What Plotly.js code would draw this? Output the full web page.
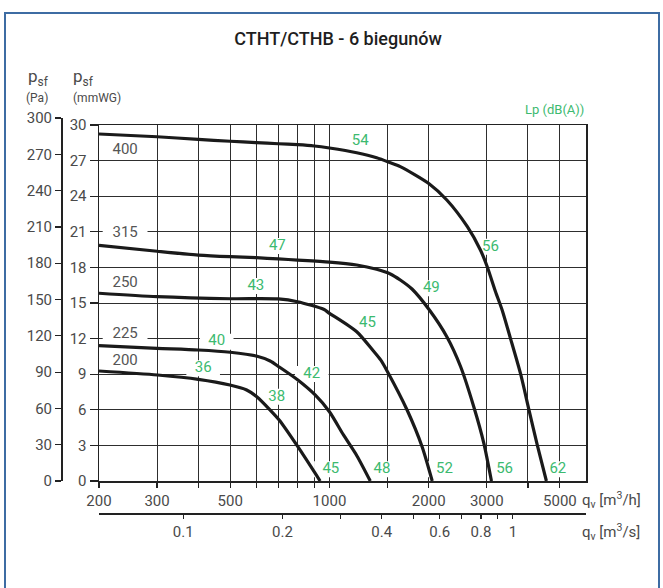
<!DOCTYPE html>
<html><head><meta charset="utf-8">
<script src="https://cdn.plot.ly/plotly-3.0.1.min.js"></script>
<style>
html,body{margin:0;padding:0;background:#fff;}
#wrap{position:relative;width:663px;height:588px;overflow:hidden;}
#chart{position:absolute;left:0;top:0;width:663px;height:588px;}
#frame{position:absolute;left:4px;top:12px;width:656px;height:600px;border:2px solid #3d6ca3;border-bottom:none;box-sizing:border-box;pointer-events:none;}
</style></head>
<body><div id="wrap"><div id="chart"></div><div id="frame"></div></div>
<script>
// ---- data (q in m3/h, pressure in mmWG) ----
const sizes = ['400', '315', '250', '225', '200'];
const q400 = [200, 300, 400, 500, 600, 700, 800, 900, 1000, 1210, 1390, 1530, 1640, 2010, 2270, 2620, 2870, 3010, 3190, 3340, 3540, 3800, 4030, 4270, 4550];
const p400 = [29.24, 29.01, 28.79, 28.63, 28.51, 28.42, 28.34, 28.23, 28.06, 27.66, 27.24, 26.82, 26.49, 25.03, 23.68, 21.43, 19.47, 18.06, 15.95, 14.41, 12.02, 9.02, 5.98, 3.03, 0];
const q315 = [200, 300, 400, 500, 600, 700, 800, 1000, 1210, 1390, 1530, 1640, 1780, 2010, 2270, 2500, 2740, 2940, 3100];
const p315 = [19.86, 19.36, 19.04, 18.90, 18.82, 18.71, 18.62, 18.45, 18.20, 17.84, 17.45, 16.94, 16.18, 14.41, 12.16, 9.63, 6.26, 3.18, 0];
const q250 = [200, 300, 500, 700, 800, 960, 1000, 1210, 1360, 1430, 1500, 1720, 1910, 2050];
const p250 = [15.82, 15.53, 15.36, 15.34, 15.11, 14.47, 14.13, 12.58, 10.95, 10.20, 9.21, 5.98, 2.89, 0];
const q225 = [200, 300, 400, 500, 600, 661, 704, 802, 905, 1000, 1103, 1212, 1330];
const p225 = [11.40, 11.18, 11.04, 10.85, 10.53, 10.11, 9.61, 8.51, 7.25, 5.84, 3.88, 2.11, 0];
const q200 = [200, 301, 400, 499, 561, 602, 661, 704, 802, 937];
const p200 = [9.27, 8.93, 8.57, 8.09, 7.67, 7.10, 5.98, 5.14, 2.89, 0];

// curve size labels
const sizeLabelQ = [240, 240, 240, 240, 240];
const sizeLabelP = [27.89, 20.87, 16.66, 12.36, 10.11];

// Lp dB(A) labels
const lpText = ['54', '56', '62', '47', '49', '56', '43', '45', '52', '40', '42', '48', '36', '38', '45'];
const lpQ    = [1240, 3080, 4930, 695, 2038, 3398, 598, 1305, 2232, 455, 884, 1444, 414, 692, 1010];
const lpP    = [28.59, 19.74, 1.0, 19.80, 16.24, 1.0, 16.43, 13.29, 1.0, 11.74, 9.02, 1.0, 9.50, 7.10, 1.0];

// axes ticks
const qhTicks  = [200, 300, 500, 1000, 2000, 3000, 5000];
const qhMinor  = [400, 600, 700, 800, 900, 1500, 4000];
const qsTicks  = [0.1, 0.2, 0.4, 0.6, 0.8, 1];
const qsMinor  = [0.3, 0.5, 0.7, 0.9];
const mmTicks  = [0, 3, 6, 9, 12, 15, 18, 21, 24, 27, 30];
const paTicks  = [0, 30, 60, 90, 120, 150, 180, 210, 240, 270, 300];

const qMin = 200, qMax = 6000;

// ---- layout geometry ----
const W = 663, H = 588, L = 55, R = 77, T = 118, B = 75;
const pw = W - L - R, ph = H - T - B;
const xd0 = (99 - L) / pw;
const yd0 = (513 - 481) / ph;
const yd1 = (513 - 125) / ph;

const FONT = 'Roboto, "DejaVu Sans", sans-serif';
const GREEN = '#3cba6f';
const TXT = '#4a4a4a';
const DARK = '#222';
const GRID = '#2e2e2e';

const traces = [];
// white boxes behind labels (drawn under curves, over grid)
traces.push({x: sizeLabelQ, y: sizeLabelP, xaxis: 'x', yaxis: 'y', mode: 'markers', hoverinfo: 'skip', showlegend: false,
  marker: {symbol: 'line-ew', size: 32, line: {width: 16, color: '#fff'}, color: '#fff'}});
traces.push({x: lpQ, y: lpP, xaxis: 'x', yaxis: 'y', mode: 'markers', hoverinfo: 'skip', showlegend: false,
  marker: {symbol: 'line-ew', size: 24, line: {width: 16, color: '#fff'}, color: '#fff'}});
// label texts
traces.push({x: sizeLabelQ, y: sizeLabelP, text: sizes, xaxis: 'x', yaxis: 'y', mode: 'text', textposition: 'middle center',
  hoverinfo: 'skip', showlegend: false, textfont: {family: FONT, size: 15, color: '#555'}});
traces.push({x: lpQ, y: lpP, text: lpText, xaxis: 'x', yaxis: 'y', mode: 'text', textposition: 'middle center',
  hoverinfo: 'skip', showlegend: false, textfont: {family: FONT, size: 15, color: GREEN}});
// fan curves
const curves = [[q400, p400], [q315, p315], [q250, p250], [q225, p225], [q200, p200]];
curves.forEach((c, i) => traces.push({
  x: c[0], y: c[1], xaxis: 'x', yaxis: 'y', type: 'scatter', mode: 'lines',
  name: sizes[i], hoverinfo: 'skip', showlegend: false,
  line: {color: '#1a1a1a', width: 3.2, shape: 'spline', smoothing: 0.7}
}));
// helpers so that secondary axes get drawn
traces.push({x: [qsTicks[0], qsTicks[qsTicks.length - 1]], y: [null, null], xaxis: 'x2', yaxis: 'y', mode: 'lines', hoverinfo: 'skip', showlegend: false});
traces.push({x: [0.5], y: [null], xaxis: 'x3', yaxis: 'y2', mode: 'markers', hoverinfo: 'skip', showlegend: false});

const px2x = p => (p - L) / pw, py2y = p => (513 - p) / ph;
const annotations = [
  {xref: 'paper', yref: 'paper', x: px2x(38), y: py2y(78), text: 'p<sub>sf</sub>', showarrow: false, xanchor: 'center', yanchor: 'middle', font: {family: FONT, size: 17, color: TXT}},
  {xref: 'paper', yref: 'paper', x: px2x(37), y: py2y(98), text: '(Pa)', showarrow: false, xanchor: 'center', yanchor: 'middle', font: {family: FONT, size: 12, color: TXT}},
  {xref: 'paper', yref: 'paper', x: px2x(71), y: py2y(78), text: 'p<sub>sf</sub>', showarrow: false, xanchor: 'left', yanchor: 'middle', font: {family: FONT, size: 17, color: TXT}},
  {xref: 'paper', yref: 'paper', x: px2x(71), y: py2y(98), text: '(mmWG)', showarrow: false, xanchor: 'left', yanchor: 'middle', font: {family: FONT, size: 12, color: TXT}},
  {xref: 'paper', yref: 'paper', x: 1, y: py2y(110), text: 'Lp (dB(A))', showarrow: false, xanchor: 'right', yanchor: 'middle', font: {family: FONT, size: 13, color: GREEN}},
  {xref: 'paper', yref: 'paper', x: px2x(580), y: py2y(500), text: 'q<sub>v</sub> [m<sup>3</sup>/h]', showarrow: false, xanchor: 'left', yanchor: 'middle', font: {family: FONT, size: 15, color: TXT}},
  {xref: 'paper', yref: 'paper', x: px2x(580), y: py2y(532), text: 'q<sub>v</sub> [m<sup>3</sup>/s]', showarrow: false, xanchor: 'left', yanchor: 'middle', font: {family: FONT, size: 15, color: TXT}}
];

const tickFont = {family: FONT, size: 15, color: TXT};
const layout = {
  width: W, height: H, margin: {l: L, r: R, t: T, b: B, pad: 0},
  paper_bgcolor: 'rgba(0,0,0,0)', plot_bgcolor: '#fff', showlegend: false,
  title: {text: 'CTHT/CTHB - 6 biegunów', x: 338 / W, xref: 'container', xanchor: 'center', y: 1 - 39 / H, yref: 'container', yanchor: 'middle',
          font: {family: FONT, size: 18, color: '#1e1e1e', weight: 500}},
  xaxis: {type: 'log', domain: [xd0, 1], anchor: 'y', range: [Math.log10(qMin), Math.log10(qMax)],
          tickmode: 'array', tickvals: qhTicks, ticktext: qhTicks.map(String), ticks: 'outside', ticklen: 5, tickcolor: DARK, tickwidth: 1.2,
          minor: {tickmode: 'array', tickvals: qhMinor, ticks: 'outside', ticklen: 5, tickcolor: DARK, tickwidth: 1.2, showgrid: true, gridcolor: GRID, gridwidth: 1},
          showline: true, linecolor: DARK, linewidth: 1.5, mirror: true, showgrid: true, gridcolor: GRID, gridwidth: 1,
          zeroline: false, tickfont: tickFont, fixedrange: true},
  xaxis2: {type: 'log', overlaying: 'x', anchor: 'free', position: 0, side: 'bottom',
           range: [Math.log10(qMin / 3600), Math.log10(qMax / 3600)],
           tickmode: 'array', tickvals: qsTicks, ticktext: qsTicks.map(String), ticks: 'outside', ticklen: 4, tickcolor: DARK, tickwidth: 1.2,
           minor: {tickmode: 'array', tickvals: qsMinor, ticks: 'outside', ticklen: 4, tickcolor: DARK, tickwidth: 1.2, showgrid: false},
           showline: true, linecolor: DARK, linewidth: 1.5, showgrid: false, zeroline: false, tickfont: tickFont, fixedrange: true},
  xaxis3: {domain: [0, 0.001], anchor: 'y2', visible: false, range: [0, 1]},
  yaxis: {domain: [yd0, yd1], anchor: 'x', range: [0, 30], tickmode: 'array', tickvals: mmTicks,
          ticks: 'outside', ticklen: 8, tickcolor: DARK, tickwidth: 1.2,
          showline: true, linecolor: DARK, linewidth: 1.5, mirror: true, showgrid: true, gridcolor: GRID, gridwidth: 1,
          zeroline: false, tickfont: tickFont, fixedrange: true},
  yaxis2: {domain: [yd0, 1], anchor: 'free', position: px2x(61), range: [0, 300], tickmode: 'array', tickvals: paTicks,
           ticks: 'outside', ticklen: 6, tickcolor: DARK, tickwidth: 1.2,
           showline: true, linecolor: DARK, linewidth: 1.5, showgrid: false, zeroline: false, tickfont: tickFont, fixedrange: true},
  annotations: annotations
};
Plotly.newPlot('chart', traces, layout, {staticPlot: true, displayModeBar: false});
</script></body></html>
